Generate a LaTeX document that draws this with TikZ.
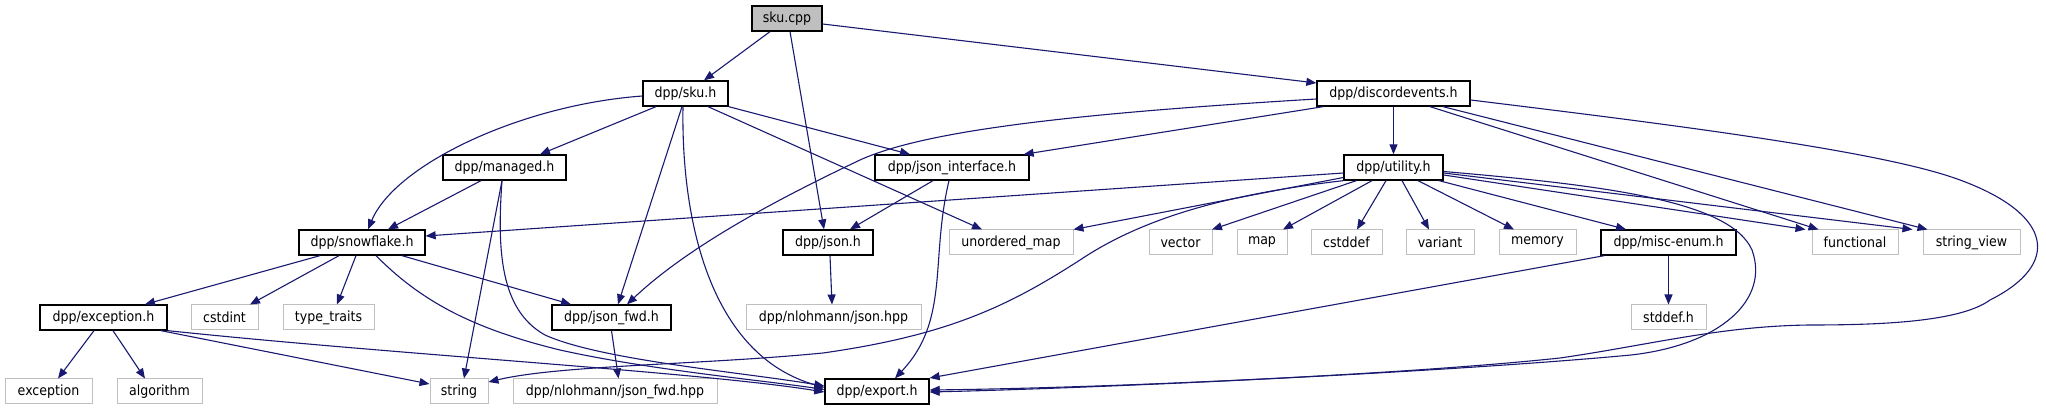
\documentclass[tikz,border=0pt]{standalone}
\usepackage{fontspec}
\setmainfont{DejaVu Sans Condensed}
\usetikzlibrary{arrows.meta}
\definecolor{edgec}{HTML}{191970}
\definecolor{sysgray}{HTML}{BFBFBF}
\tikzset{
  nb/.style={rectangle, inner sep=0pt, minimum height=25pt, font=\fontsize{14}{16}\selectfont},
  docbox/.style={nb, draw=black, line width=1.3pt, fill=white},
  sysbox/.style={nb, draw=sysgray, line width=1pt, fill=white},
  rootbox/.style={nb, draw=black, line width=1.3pt, fill=sysgray},
  dep/.style={draw=edgec, line width=1.1pt, -{Triangle[length=10pt,width=8pt]}, color=edgec}
}
\begin{document}
\begin{tikzpicture}[x=1pt,y=-1pt]
\useasboundingbox (0,0) rectangle (2046,411);
% row 1
\node[rootbox, minimum width=70pt] (skucpp) at (787,18.5) {sku.cpp};
% row 2
\node[docbox, minimum width=85pt] (skuh) at (685.5,93.5) {dpp/sku.h};
\node[docbox, minimum width=153pt] (disc) at (1393.5,93.5) {dpp/discordevents.h};
% row 3
\node[docbox, minimum width=123pt] (managed) at (504.5,167.5) {dpp/managed.h};
\node[docbox, minimum width=154pt] (jsonint) at (952,167.5) {dpp/json\_interface.h};
\node[docbox, minimum width=99pt] (utility) at (1393.5,167.5) {dpp/utility.h};
% row 4
\node[docbox, minimum width=126pt] (snow) at (362,242.5) {dpp/snowflake.h};
\node[docbox, minimum width=90pt] (jsonh) at (828,242.5) {dpp/json.h};
\node[sysbox, minimum width=124pt] (umap) at (1011,242.5) {unordered\_map};
\node[sysbox, minimum width=63pt] (vector) at (1180.5,242.5) {vector};
\node[sysbox, minimum width=50pt] (map) at (1262,242.5) {map};
\node[sysbox, minimum width=71pt] (cstddef) at (1346.5,242.5) {cstddef};
\node[sysbox, minimum width=68pt] (variant) at (1440,242.5) {variant};
\node[sysbox, minimum width=77pt] (memory) at (1537.5,242.5) {memory};
\node[docbox, minimum width=135pt] (misc) at (1668.5,242.5) {dpp/misc-enum.h};
\node[sysbox, minimum width=86pt] (functional) at (1855,242.5) {functional};
\node[sysbox, minimum width=97pt] (strview) at (1971.5,242.5) {string\_view};
% row 5
\node[docbox, minimum width=127pt] (exch) at (103.5,317.5) {dpp/exception.h};
\node[sysbox, minimum width=67pt] (cstdint) at (224.5,317.5) {cstdint};
\node[sysbox, minimum width=91pt] (typetr) at (328.5,317.5) {type\_traits};
\node[docbox, minimum width=119pt] (jsonfwd) at (611.5,317.5) {dpp/json\_fwd.h};
\node[sysbox, minimum width=175pt] (jsonhpp) at (833.5,317.5) {dpp/nlohmann/json.hpp};
\node[sysbox, minimum width=75pt] (stddef) at (1668.5,317.5) {stddef.h};
% row 6
\node[sysbox, minimum width=87pt] (exception) at (48.5,391.5) {exception};
\node[sysbox, minimum width=85pt] (algorithm) at (159.5,391.5) {algorithm};
\node[sysbox, minimum width=58pt] (string) at (459,391.5) {string};
\node[sysbox, minimum width=204pt] (jsonfwdhpp) at (615,391.5) {dpp/nlohmann/json\_fwd.hpp};
\node[docbox, minimum width=104pt] (export) at (877,391.5) {dpp/export.h};

% edges from sku.cpp
\draw[dep] ([xshift=-17pt]skucpp.south) -- ([xshift=18.5pt]skuh.north);
\draw[dep] ([xshift=3pt]skucpp.south) -- ([xshift=-4pt]jsonh.north);
\draw[dep] ([yshift=-5.5pt]skucpp.east) -- ([yshift=10.5pt]disc.west);
% edges from dpp/sku.h
\draw[dep] ([yshift=-2.5pt]skuh.west) .. controls (520,105) and (395,165) .. ([xshift=6pt]snow.north);
\draw[dep] ([xshift=-29.5pt]skuh.south) -- ([xshift=35.5pt]managed.north);
\draw[dep] ([xshift=-3.5pt]skuh.south) -- ([xshift=6.5pt]jsonfwd.north);
\draw[dep] ([xshift=-2.5pt]skuh.south) .. controls (681,220) and (710,355) .. ([yshift=4pt]export.west);
\draw[dep] (skuh.south east) -- ([xshift=-42pt]jsonint.north);
\draw[dep] ([xshift=22.5pt]skuh.south) -- ([xshift=-29pt]umap.north);
% edges from discordevents
\draw[dep] ([yshift=-5.5pt]disc.west) .. controls (1100,112) and (930,128) .. (860,160)
   .. controls (780,198) and (690,245) .. ([xshift=15.5pt]jsonfwd.north);
\draw[dep] ([xshift=7pt]disc.south west) -- ([xshift=-6pt]jsonint.north east);
\draw[dep] (disc.south) -- (utility.north);
\draw[dep] ([xshift=36.5pt]disc.south) -- ([xshift=7pt]functional.north west);
\draw[dep] ([xshift=49.5pt]disc.south) -- ([xshift=5pt]strview.north west);
\draw[dep] ([yshift=-6.5pt]disc.east) .. controls (1650,122) and (1880,150) .. (1960,180)
   .. controls (2055,215) and (2060,265) .. (1990,300)
   .. controls (1960,322) and (1880,325) .. (1810,325)
   .. controls (1720,326) and (1650,345) .. (1560,358)
   .. controls (1400,375) and (1100,388) .. ([yshift=1.5pt]export.east);
% edges from managed
\draw[dep] ([xshift=-23.5pt]managed.south) -- ([xshift=26pt]snow.north);
\draw[dep] ([xshift=-2.5pt]managed.south) -- ([xshift=5pt]string.north);
\draw[dep] ([xshift=-2.5pt]managed.south) .. controls (497,250) and (500,310) .. (545,335)
   .. controls (600,360) and (740,372) .. ([yshift=5.5pt]export.west);
% edges from json_interface
\draw[dep] ([xshift=-19pt]jsonint.south) -- ([xshift=22pt]jsonh.north);
\draw[dep] ([xshift=-3pt]jsonint.south) .. controls (930,260) and (950,320) .. ([xshift=18pt]export.north);
% edges from utility
\draw[dep] ([yshift=-5.5pt]utility.west) -- ([yshift=6.5pt]snow.east);
\draw[dep] ([yshift=-10pt]utility.west) -- (umap.north east);
\draw[dep] (utility.south west) .. controls (1220,195) and (1140,220) .. (1080,260)
   .. controls (1010,305) and (950,335) .. (823,353)
   .. controls (700,365) and (560,365) .. ([yshift=9.5pt]string.east);
\draw[dep] ([xshift=13pt]utility.south west) -- ([xshift=31.5pt]vector.north);
\draw[dep] ([xshift=-21.5pt]utility.south) -- ([xshift=21pt]map.north);
\draw[dep] ([xshift=-7.5pt]utility.south) -- ([xshift=10.5pt]cstddef.north);
\draw[dep] ([xshift=8.5pt]utility.south) -- ([xshift=-11pt]variant.north);
\draw[dep] ([xshift=24.5pt]utility.south) -- ([xshift=-23.5pt]memory.north);
\draw[dep] ([xshift=45.5pt]utility.south) -- ([xshift=-42.5pt]misc.north);
\draw[dep] ([yshift=-7.5pt]utility.east) -- ([xshift=-6pt]functional.north west);
\draw[dep] ([yshift=-5.5pt]utility.east) -- ([xshift=-10pt]strview.north west);
\draw[dep] ([yshift=-4pt]utility.east) .. controls (1600,185) and (1730,200) .. (1752,250)
   .. controls (1770,300) and (1720,345) .. (1631,355)
   .. controls (1450,372) and (1100,388) .. ([yshift=-0.5pt]export.east);
% edges from misc-enum
\draw[dep] (misc.south) -- (stddef.north);
\draw[dep] ([xshift=4pt]misc.south west) -- ([yshift=13.5pt]export.east);
% edges from snowflake
\draw[dep] ([xshift=-42pt]snow.south) -- ([xshift=41.5pt]exch.north);
\draw[dep] ([xshift=-23pt]snow.south) -- ([xshift=25.5pt]cstdint.north);
\draw[dep] ([xshift=-6pt]snow.south) -- ([xshift=8.5pt]typetr.north);
\draw[dep] ([xshift=40pt]snow.south) -- ([xshift=-40.5pt]jsonfwd.north);
\draw[dep] ([xshift=14pt]snow.south) .. controls (420,300) and (470,328) .. (560,350)
   .. controls (650,370) and (760,380) .. ([yshift=2pt]export.west);
% json.h
\draw[dep] ([xshift=2pt]jsonh.south) -- ([xshift=-1.5pt]jsonhpp.north);
% exception.h
\draw[dep] ([xshift=-9.5pt]exch.south) -- ([xshift=9.5pt]exception.north);
\draw[dep] ([xshift=9.5pt]exch.south) -- ([xshift=-14.5pt]algorithm.north);
\draw[dep] ([xshift=57.5pt]exch.south) -- ([yshift=7.5pt]string.west);
\draw[dep] (exch.south east) .. controls (400,355) and (700,372) .. ([yshift=-0.5pt]export.west);
% json_fwd.h
\draw[dep] (jsonfwd.south) -- ([xshift=3.5pt]jsonfwdhpp.north);
\end{tikzpicture}
\end{document}
